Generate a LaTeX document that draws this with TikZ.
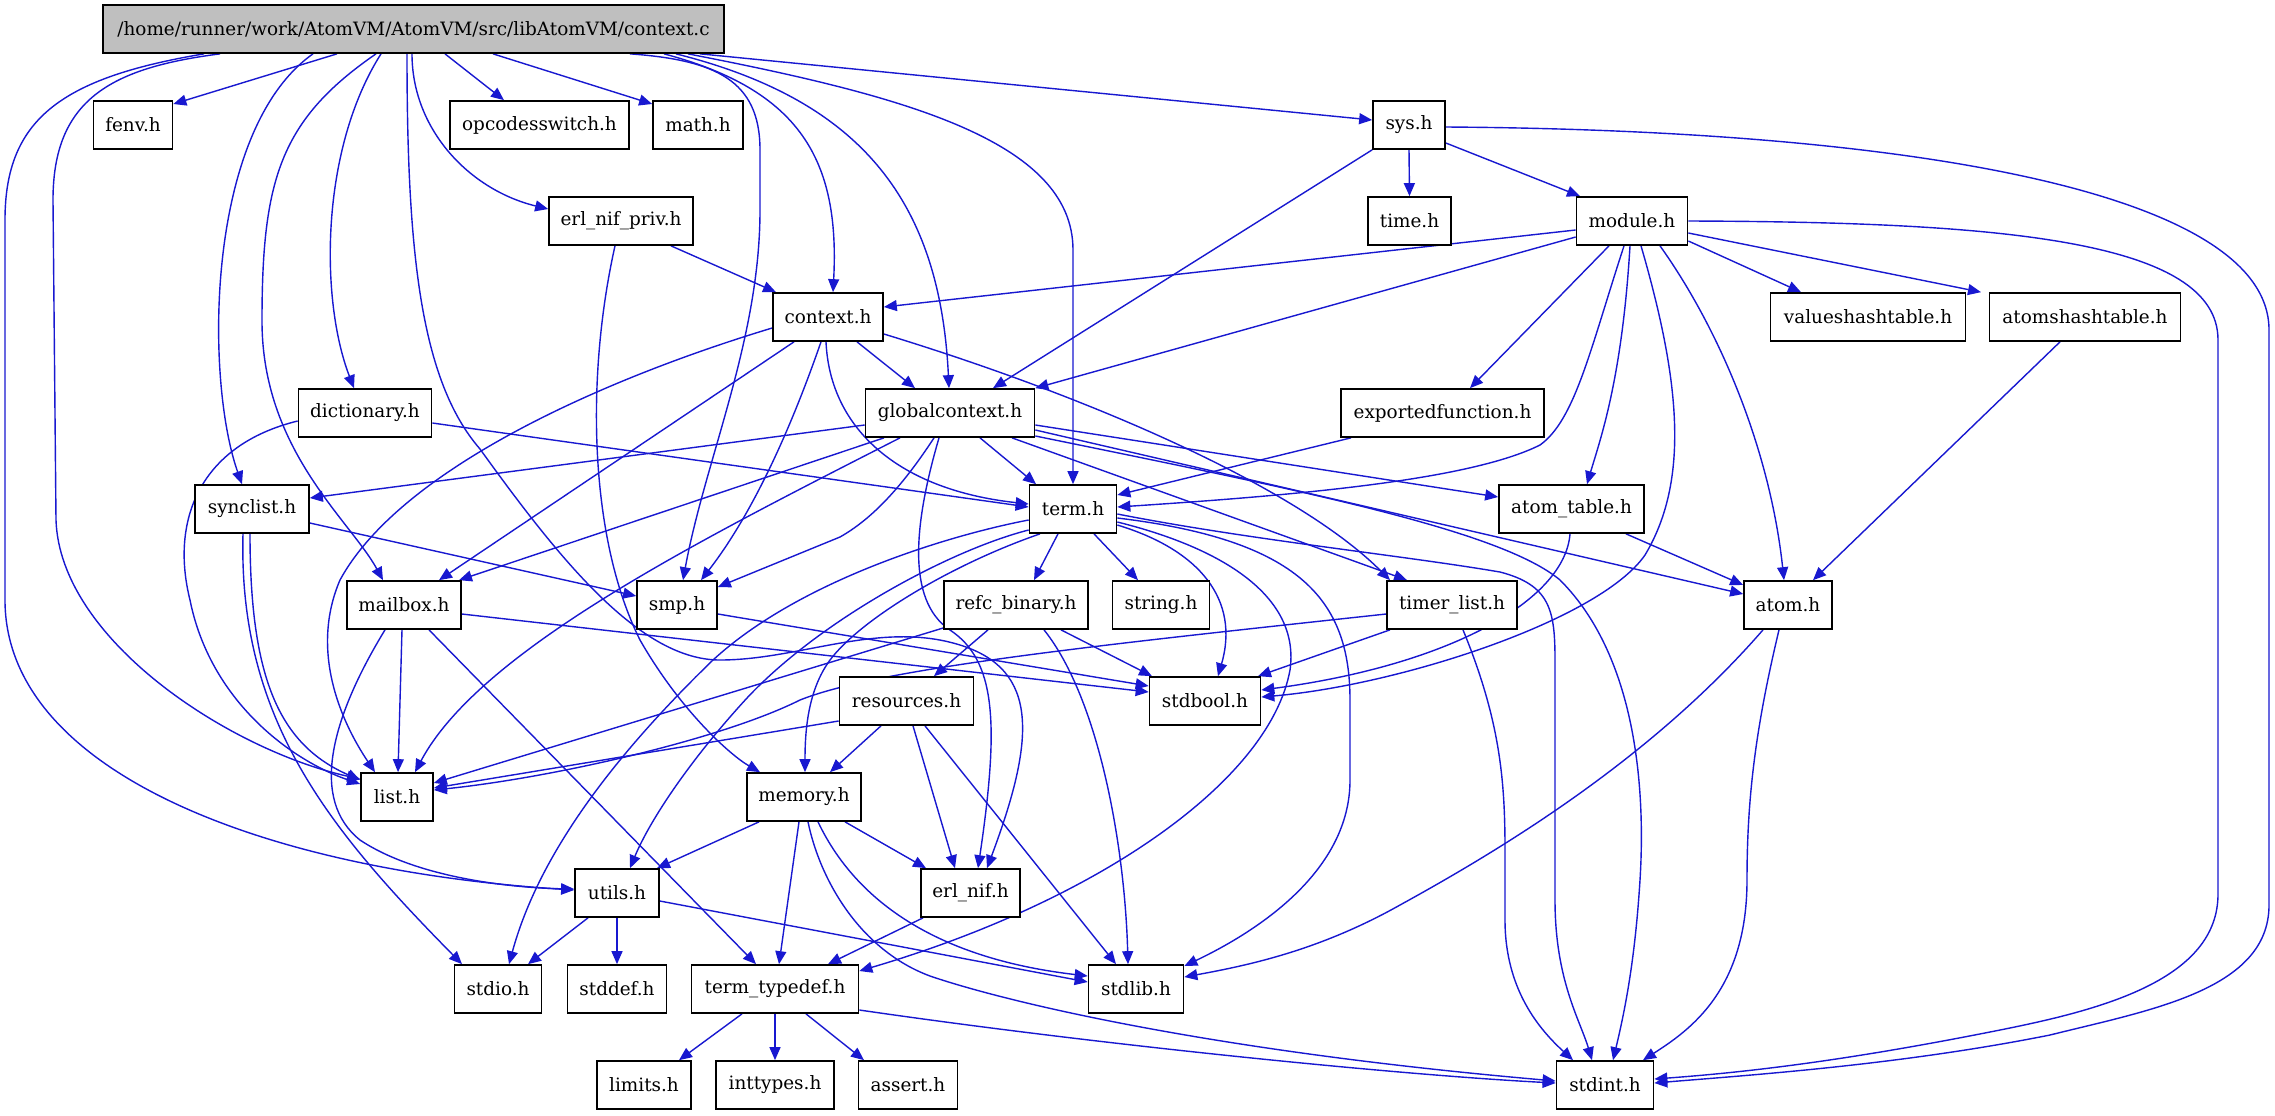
\documentclass[tikz,border=0pt]{standalone}
\usepackage{fontspec}
\setmainfont{DejaVu Serif}
\usetikzlibrary{arrows.meta}
\definecolor{eb}{RGB}{24,24,208}
\definecolor{mg}{RGB}{191,191,191}
\pgfdeclarelayer{bg}
\pgfsetlayers{bg,main}
\begin{document}
\begin{tikzpicture}[x=0.5pt,y=-0.5pt,
  box/.style={draw=black, line width=0.85pt, fill=white, minimum height=24pt, inner sep=0pt, font=\fontsize{9.2}{11}\selectfont},
  e/.style={draw=eb, line width=0.7pt, -{Triangle[length=6.5pt,width=5.5pt]}}]
\useasboundingbox (0,0) rectangle (2275,1115);
% nodes
\node[box, minimum width=310.5pt, fill=mg] (main) at (413.5,29) {/home/runner/work/AtomVM/AtomVM/src/libAtomVM/context.c};
\node[box, minimum width=39.5pt] (fenv) at (133,125) {fenv.h};
\node[box, minimum width=89.5pt] (opcodes) at (539.5,125) {opcodesswitch.h};
\node[box, minimum width=45pt] (math) at (698,125) {math.h};
\node[box, minimum width=36pt] (sys) at (1409,125) {sys.h};
\node[box, minimum width=72pt] (enp) at (621,221) {erl\_nif\_priv.h};
\node[box, minimum width=41.5pt] (time) at (1409.5,221) {time.h};
\node[box, minimum width=55.5pt] (module) at (1632,221) {module.h};
\node[box, minimum width=55pt] (context) at (828,317) {context.h};
\node[box, minimum width=97.5pt] (values) at (1868,317) {valueshashtable.h};
\node[box, minimum width=95.5pt] (atomshash) at (2085,317) {atomshashtable.h};
\node[box, minimum width=66.5pt] (dictionary) at (365,413) {dictionary.h};
\node[box, minimum width=84.5pt] (global) at (950,413) {globalcontext.h};
\node[box, minimum width=101.5pt] (exported) at (1442.5,413) {exportedfunction.h};
\node[box, minimum width=57pt] (synclist) at (252,509) {synclist.h};
\node[box, minimum width=43.5pt] (term) at (1073,509) {term.h};
\node[box, minimum width=72.5pt] (atomtable) at (1571.5,509) {atom\_table.h};
\node[box, minimum width=57pt] (mailbox) at (404,605) {mailbox.h};
\node[box, minimum width=40pt] (smp) at (677,605) {smp.h};
\node[box, minimum width=72pt] (refc) at (1016,605) {refc\_binary.h};
\node[box, minimum width=48.5pt] (string) at (1161,605) {string.h};
\node[box, minimum width=65pt] (timer) at (1452,605) {timer\_list.h};
\node[box, minimum width=44pt] (atom) at (1788,605) {atom.h};
\node[box, minimum width=67pt] (resources) at (906.5,701) {resources.h};
\node[box, minimum width=55.5pt] (stdbool) at (1205,701) {stdbool.h};
\node[box, minimum width=36pt] (list) at (397,797) {list.h};
\node[box, minimum width=57pt] (memory) at (804,797) {memory.h};
\node[box, minimum width=42pt] (utils) at (617,893) {utils.h};
\node[box, minimum width=49.5pt] (erlnif) at (970.5,893) {erl\_nif.h};
\node[box, minimum width=43.5pt] (stdio) at (498,989) {stdio.h};
\node[box, minimum width=49.5pt] (stddef) at (617,989) {stddef.h};
\node[box, minimum width=83.5pt] (termtd) at (775,989) {term\_typedef.h};
\node[box, minimum width=47.5pt] (stdlib) at (1136,989) {stdlib.h};
\node[box, minimum width=47pt] (limits) at (644,1085) {limits.h};
\node[box, minimum width=59pt] (inttypes) at (775,1085) {inttypes.h};
\node[box, minimum width=49.5pt] (assert) at (908,1085) {assert.h};
\node[box, minimum width=48.5pt] (stdint) at (1605,1085) {stdint.h};
\begin{pgfonlayer}{bg}
\fill[white] (0,0) rectangle (2275,1115);
% main
\draw[e] (main.south -| 337,0) -- (fenv.east |- 0,104);
\draw[e] (main.south -| 445,0) -- (opcodes.north -| 504,0);
\draw[e] (main.south -| 493,0) -- (math.west |- 0,104);
\draw[e] (main.south -| 412,0) .. controls (412,130) and (470,190) .. (enp.west |- 0,209);
\draw[e] (main.south -| 381,0) .. controls (320,150) and (320,300) .. (dictionary.north -| 354,0);
\draw[e] (main.south -| 313,0) .. controls (205,130) and (205,380) .. (synclist.north -| 242,0);
\draw[e] (main.south -| 376,0) .. controls (280,120) and (262,180) .. (262,321) .. controls (262,450) and (350,520) .. (mailbox.north -| 383,0);
\draw[e] (main.south -| 220,0) .. controls (110,68) and (53,100) .. (53,200) -- (56,520) .. controls (60,640) and (230,750) .. (list.west |- 0,779);
\draw[e] (main.south -| 204,0) .. controls (60,78) and (5,120) .. (5,220) -- (5,600) .. controls (5,770) and (260,870) .. (utils.west |- 0,890);
\draw[e] (main.south -| 630,0) .. controls (715,60) and (760,80) .. (760,150) -- (760,210) .. controls (760,340) and (705,460) .. (smp.north -| 683,0);
\draw[e] (main.south -| 407,0) .. controls (407,250) and (420,380) .. (480,449) .. controls (560,560) and (640,660) .. (720,660) .. controls (800,660) and (880,620) .. (960,645) .. controls (1040,670) and (1035,740) .. (erlnif.north -| 987,0);
\draw[e] (main.south -| 664,0) .. controls (800,90) and (840,160) .. (context.north -| 833,0);
\draw[e] (main.south -| 676,0) .. controls (860,100) and (940,200) .. (global.north -| 949,0);
\draw[e] (main.south -| 688,0) .. controls (900,95) and (1073,140) .. (1073,250) -- (term.north);
\draw[e] (main.south -| 700,0) -- (sys.west |- 0,120);
% erl_nif_priv
\draw[e] (enp.south -| 671,0) -- (context.north -| 776,0);
\draw[e] (enp.south -| 615,0) .. controls (585,380) and (590,540) .. (640,640) .. controls (680,710) and (730,755) .. (memory.north -| 760,0);
% sys
\draw[e] (sys.south) -- (time.north);
\draw[e] (sys.east |- 0,143) -- (module.north -| 1580,0);
\draw[e] (sys.south west) -- (global.north -| 993,0);
\draw[e] (sys.east |- 0,127) .. controls (1900,130) and (2269,190) .. (2269,330) -- (2269,905) .. controls (2269,990) and (2150,1010) .. (2050,1035) .. controls (1900,1065) and (1750,1075) .. (stdint.east |- 0,1083);
% module
\draw[e] (module.west |- 0,230) -- (context.east |- 0,307);
\draw[e] (module.west |- 0,237) -- (global.north east);
\draw[e] (module.south -| 1609,0) -- (exported.north -| 1470,0);
\draw[e] (module.south -| 1624,0) .. controls (1590,350) and (1575,420) .. (1540,445) .. controls (1470,480) and (1300,495) .. (term.east |- 0,507);
\draw[e] (module.south -| 1630,0) .. controls (1622,380) and (1600,440) .. (atomtable.north -| 1587,0);
\draw[e] (module.south -| 1641,0) .. controls (1680,380) and (1690,480) .. (1645,555) .. controls (1600,620) and (1400,685) .. (stdbool.east |- 0,697);
\draw[e] (module.south -| 1660,0) .. controls (1720,330) and (1770,450) .. (atom.north -| 1784,0);
\draw[e] (module.east |- 0,241) -- (values.north -| 1801,0);
\draw[e] (module.east |- 0,233) -- (atomshash.north -| 1981,0);
\draw[e] (module.east |- 0,221) .. controls (2000,222) and (2218,240) .. (2218,340) -- (2218,894) .. controls (2218,980) and (2100,1010) .. (2000,1030) .. controls (1850,1060) and (1750,1072) .. (stdint.east |- 0,1079);
% atomshash, atom_table
\draw[e] (atomshash.south -| 2060,0) -- (atom.north -| 1813,0);
\draw[e] (atomtable.south -| 1626,0) -- (atom.west |- 0,585);
\draw[e] (atomtable.south -| 1570,0) .. controls (1565,600) and (1450,665) .. (stdbool.east |- 0,690);
% atom
\draw[e] (atom.south -| 1763,0) .. controls (1650,760) and (1500,850) .. (1400,905) .. controls (1320,950) and (1250,965) .. (stdlib.east |- 0,977);
\draw[e] (atom.south -| 1779,0) .. controls (1755,730) and (1747,800) .. (1747,880) .. controls (1747,990) and (1690,1030) .. (stdint.north -| 1643,0);
% globalcontext
\draw[e] (global.west |- 0,425) -- (synclist.east |- 0,498);
\draw[e] (global.south -| 884,0) -- (mailbox.north -| 459,0);
\draw[e] (global.south -| 900,0) .. controls (700,540) and (480,650) .. (list.north -| 415,0);
\draw[e] (global.south -| 934,0) .. controls (900,490) and (870,520) .. (840,537) -- (smp.east |- 0,587);
\draw[e] (global.south -| 939,0) .. controls (915,520) and (905,600) .. (950,630) .. controls (995,660) and (1000,720) .. (erlnif.north -| 978,0);
\draw[e] (global.south -| 980,0) -- (term.north -| 1036,0);
\draw[e] (global.south -| 1012,0) -- (timer.north -| 1407,0);
\draw[e] (global.east |- 0,425) -- (atomtable.west |- 0,497);
\draw[e] (global.east |- 0,430) -- (atom.west |- 0,594);
\draw[e] (global.east |- 0,436) .. controls (1300,490) and (1500,530) .. (1560,580) .. controls (1640,660) and (1645,800) .. (1640,880) .. controls (1635,960) and (1625,1010) .. (stdint.north -| 1613,0);
% context
\draw[e] (context.west |- 0,328) .. controls (600,380) and (400,470) .. (340,580) .. controls (310,650) and (340,720) .. (list.north -| 375,0);
\draw[e] (context.south -| 794,0) -- (mailbox.north -| 439,0);
\draw[e] (context.south -| 821,0) .. controls (780,460) and (740,530) .. (smp.north -| 701,0);
\draw[e] (context.south -| 826,0) .. controls (830,430) and (900,490) .. (term.west |- 0,504);
\draw[e] (context.south -| 857,0) -- (global.north -| 915,0);
\draw[e] (context.east |- 0,334) .. controls (1100,400) and (1300,490) .. (timer.north -| 1390,0);
% dictionary
\draw[e] (dictionary.west |- 0,421) .. controls (200,445) and (170,520) .. (190,600) .. controls (210,700) and (290,760) .. (list.west |- 0,784);
\draw[e] (dictionary.east |- 0,423) -- (term.west |- 0,507);
% synclist
\draw[e] (synclist.south -| 250,0) .. controls (250,680) and (280,745) .. (list.west |- 0,780);
\draw[e] (synclist.south -| 243,0) .. controls (238,720) and (330,830) .. (stdio.north -| 462,0);
\draw[e] (synclist.east |- 0,523) -- (smp.west |- 0,596);
% mailbox
\draw[e] (mailbox.east |- 0,614) -- (stdbool.west |- 0,692);
\draw[e] (mailbox.south -| 385,0) .. controls (330,720) and (310,800) .. (360,840) .. controls (420,880) and (520,888) .. (utils.west |- 0,889);
\draw[e] (mailbox.south -| 402,0) -- (list.north -| 398,0);
\draw[e] (mailbox.south -| 429,0) -- (termtd.north -| 756,0);
% smp
\draw[e] (smp.east |- 0,614) -- (stdbool.west |- 0,686);
% term
\draw[e] (term.west |- 0,520) .. controls (950,535) and (800,580) .. (713,660) .. controls (620,750) and (540,850) .. (stdio.north -| 509,0);
\draw[e] (term.west |- 0,530) .. controls (950,550) and (820,620) .. (747,698) .. controls (690,760) and (650,820) .. (utils.north -| 630,0);
\draw[e] (term.south -| 1040,0) .. controls (950,565) and (860,620) .. (830,660) .. controls (808,690) and (805,730) .. (memory.north -| 805,0);
\draw[e] (term.south -| 1058,0) -- (refc.north -| 1034,0);
\draw[e] (term.south -| 1094,0) -- (string.north -| 1138,0);
\draw[e] (term.east |- 0,525) .. controls (1200,550) and (1240,600) .. (stdbool.north -| 1218,0);
\draw[e] (term.east |- 0,518) .. controls (1300,540) and (1350,600) .. (1350,700) -- (1350,780) .. controls (1350,870) and (1260,930) .. (stdlib.east |- 0,966);
\draw[e] (term.east |- 0,522) .. controls (1230,550) and (1300,600) .. (1290,670) .. controls (1270,780) and (1100,900) .. (termtd.east |- 0,971);
\draw[e] (term.east |- 0,514) .. controls (1250,540) and (1400,555) .. (1500,572) .. controls (1550,585) and (1555,610) .. (1555,660) -- (1555,900) .. controls (1555,980) and (1580,1020) .. (stdint.north -| 1592,0);
% exportedfunction
\draw[e] (exported.south -| 1351,0) -- (term.east |- 0,495);
% refc_binary
\draw[e] (refc.west |- 0,628) -- (list.east |- 0,783);
\draw[e] (refc.south -| 988,0) -- (resources.north -| 934,0);
\draw[e] (refc.south -| 1061,0) -- (stdbool.north -| 1152,0);
\draw[e] (refc.south -| 1044,0) .. controls (1100,700) and (1125,850) .. (stdlib.north -| 1128,0);
% timer_list
\draw[e] (timer.west |- 0,614) .. controls (1100,645) and (880,668) .. (800,700) .. controls (720,740) and (550,778) .. (list.east |- 0,790);
\draw[e] (timer.south -| 1390,0) -- (stdbool.north -| 1258,0);
\draw[e] (timer.south -| 1463,0) .. controls (1500,720) and (1505,780) .. (1505,850) -- (1505,920) .. controls (1505,990) and (1540,1030) .. (stdint.north -| 1573,0);
% resources
\draw[e] (resources.west |- 0,721) -- (list.east |- 0,788);
\draw[e] (resources.south -| 881,0) -- (memory.north -| 830,0);
\draw[e] (resources.south -| 913,0) -- (erlnif.north -| 955,0);
\draw[e] (resources.south -| 925,0) -- (stdlib.north -| 1116,0);
% memory
\draw[e] (memory.south -| 759,0) -- (utils.north -| 657,0);
\draw[e] (memory.south -| 799,0) -- (termtd.north -| 779,0);
\draw[e] (memory.south -| 845,0) -- (erlnif.north -| 926,0);
\draw[e] (memory.south -| 818,0) .. controls (860,910) and (950,960) .. (stdlib.west |- 0,976);
\draw[e] (memory.south -| 808,0) .. controls (820,880) and (860,950) .. (930,976) .. controls (1000,1000) and (1200,1050) .. (stdint.west |- 0,1081);
% erl_nif
\draw[e] (erlnif.south -| 923,0) -- (termtd.north -| 828,0);
% utils
\draw[e] (utils.south -| 588,0) -- (stdio.north -| 528,0);
\draw[e] (utils.south) -- (stddef.north);
\draw[e] (utils.east |- 0,901) -- (stdlib.west |- 0,982);
% term_typedef
\draw[e] (termtd.south -| 742,0) -- (limits.north -| 679,0);
\draw[e] (termtd.south) -- (inttypes.north);
\draw[e] (termtd.south -| 806,0) -- (assert.north -| 864,0);
\draw[e] (termtd.east |- 0,1010) .. controls (1100,1045) and (1400,1075) .. (stdint.west |- 0,1083);
\end{pgfonlayer}
\end{tikzpicture}
\end{document}
